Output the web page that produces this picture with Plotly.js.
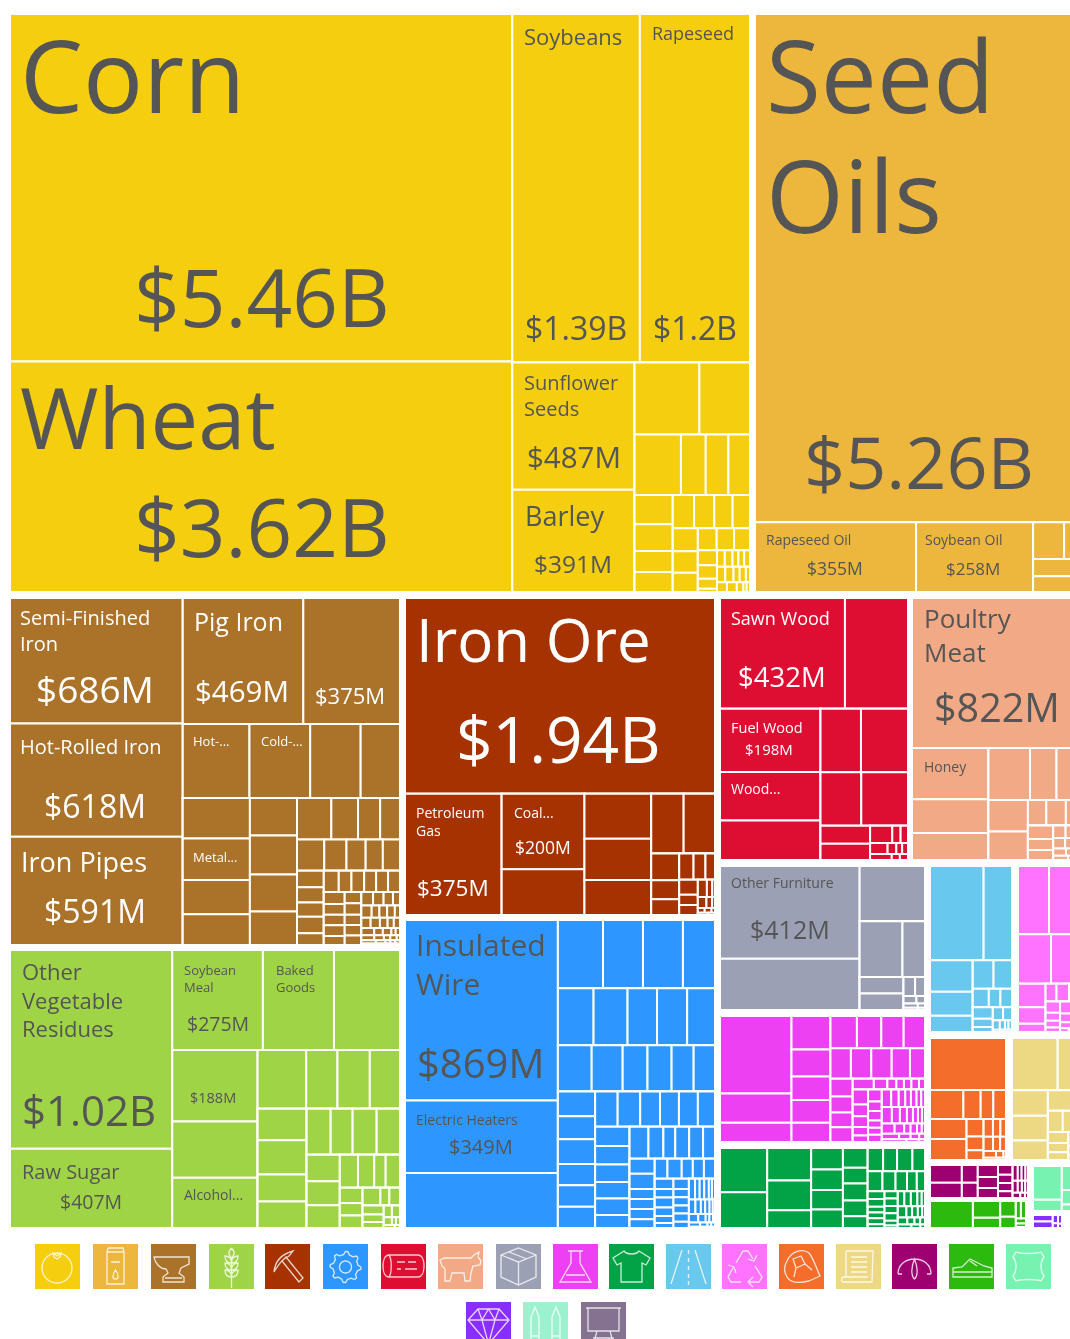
<!DOCTYPE html>
<html><head><meta charset="utf-8">
<script src="https://cdn.plot.ly/plotly-3.0.1.min.js"></script>
<style>html,body{margin:0;padding:0;width:1070px;height:1339px;overflow:hidden;background:#fff}#c{filter:blur(0.6px)}</style>
</head><body><div id="c"></div>
<script>
// Export values in $M; nesting alternates horizontal / vertical splits.
const vegTail=[[4,4,3,3,3],[4,4,3,3,2],[3,3,2,1,1]];
const vegD=[[9,8,6,2],vegTail];
const vegC=[[13,12,11],vegD];
const vegB=[[18,17,15],vegC];
const vegA=[[22,21,19,18],vegB];
const vegRow3=[[35,32,25,24],vegA];
const vegSmall=[[146,114],[88,47,43,41],vegRow3];
const vegLower=[[487,391],vegSmall];
const vegRight=[[1390,1200],vegLower];
const vegetableValues=[[5460,3620],vegRight];

const oilSmall=[[36,22],27,25];
const oilLower=[355,258,oilSmall];
const oilValues=[[5260,oilLower]];

const metTail=[[5,4.5,4,3],[4,3,3,3,2],[3,3,2.5,2,2],[3,2,2,1,1],[2,1.5,1,1,.5],[1.5,1,.5,.5,.5],[.8,.5,.3,.2]];
const metE=[[8,7,7,7,6],[6,6,5.5,5.5,5],metTail];
const metD=[[10,8.5,8.5,8,8,8],metE];
const metC=[[14,13,12,14,10],metD];
const metB=[[45,35,29,26],[27,22,19,17,17],metC];
const metA=[[86,88,73,65],[56,58,55,50],metB];
const metRight=[[480,385],[156,142,118,92],metA];
const metalValues=[[686,618,591],metRight];

const minTail=[[5,3,1.5],[3,2,1],[1,1,.5],[.8,.5]];
const minC=[[9,6,6],minTail];
const minB=[[12,10,8],minC];
const minA=[[24,17,14],minB];
const minRest=[[62,60],minA];
const minLower=[375,[200,121],[96,88,75],minRest];
const mineralValues=[[1940,minLower]];

const woodTail=[[12,4.5,4],[6,3,2,2],[4,1.5,1.5]];
const woodB=[[28,25],woodTail];
const woodA=[[80,93],[68,78],woodB];
const woodLower=[[198,152,124],woodA];
const woodValues=[[[432,218],woodLower]];

const aniTail=[[5,4,3],[4,3,3],[3,2,2],[2,1,1]];
const aniD=[[11,9,8],aniTail];
const aniC=[[15,16,14],aniD];
const aniB=[[40,36],aniC];
const aniA=[[69,44,44],aniB];
const aniLower=[[125,83,66],aniA];
const animalValues=[[822,aniLower]];

const foodTail=[[3,3],[2,1,1],[1,.5]];
const foodG=[[6,5,4],foodTail];
const foodF=[[10,5,6],foodG];
const foodE=[[11,9,9],foodF];
const foodD=[[19,17,12,15],foodE];
const foodC=[[28,25,24],foodD];
const foodB=[[35,32,35,34],foodC];
const foodA=[[49,53,42,41],foodB];
const foodRest=[[90,58,60,56],foodA];
const foodLower=[[193,152,136],foodRest];
const foodRight=[[287,225,209],foodLower];
const foodValues=[[1020,407],foodRight];

const macTail=[[4,3,3,3,2,2],[3,2.5,2,2,1.5,1],[2.5,2,1,1,.5],[1.5,1,.5,.5],[.5,.3,.2]];
const macF=[[6,5,6,5,4,3],[5,4,4,4,4,3],macTail];
const macE=[[8,9,7,7,7],macF];
const macD=[[12,12,8,8,8,7],macE];
const macC=[[19,15,12,14,14,12],macD];
const macB=[[21,20,19,18,18,14],macC];
const macA=[[25,25,22,21,21,19],macB];
const macRest=[[29,27,29,25,25,25],macA];
const macRight=[[97,86,86,69],[64,61,53,54,50],[49,45,36,35,32,31],macRest];
const machineValues=[[869,349,265],macRight];

const miscTail=[[7,6],[3,2],[2,1],[1,.5]];
const miscLow=[[23,23],miscTail];
const miscValues=[[412,228],[115,[76,40],miscLow]];

const chemTail=[[5,4,3.5,3,3,2.5,2],[5,4,3.5,3,2.5,2,1.5],[4,3,2,2,1.5,1],[3,2,1.5,1],[2,1,.5]];
const chemC=[[7,5.5,5,4,3],[5,4,4,3,3,3],chemTail];
const chemB=[[7,4.5,3,2.5,2.5,2.5,2],chemC];
const chemA=[[12,11,10,10],chemB];
const chemRight=[[26,24,22,21],[19,19,19,17,14],chemA];
const chemicalValues=[[169,64,42],[40,32,28,27,23],chemRight];

const texTail=[[3,3,3,2,1.5],[3,2,2,1.5,1],[2,1.5,1.2,1],[1.5,1,.5]];
const texB=[[4,4,3,3,3,2],[3,3,3,3,2,1],texTail];
const texRight=[[11,10,11,9],[9,8,7,6,5],texB];
const textileValues=[[64,52],[44,40,24],[21,20,19,18],[15,12,13,12,9],texRight];

const traTail=[[4,3.5],[2,1.5,1,1],[.5,.5,.3]];
const traB=[[7,5,3],traTail];
const traA=[[18,16],[9,6.5,6.5],traB];
const traLower=[[41,31,21],traA];
const transportValues=[[[153,81],traLower]];

const plaTail=[[4,4],[3,3],[2,2],[1,1,.5]];
const plaB=[[5,3.5,3,2],plaTail];
const plaA=[[6,7,7],plaB];
const plaLower=[[20,14,7],plaA];
const plasticValues=[[[65,69],[50,47],plaLower]];

const oraTail=[[5,4,3],[4,3,2.5],[2.5,1.5,.5],[1,.5]];
const oraLower=[[22,23],[9,7,5],oraTail];
const orangeValues=[[118,[29,15,11,11],oraLower]];

const papTail=[[3,3],[2,2],[1,1]];
const papB=[[7,6,5],papTail];
const papA=[[22],[10,13],papB];
const papLower=[[29,28,22],papA];
const paperValues=[[[75,40],papLower]];

const insTail=[[2,1.5,1.5,1],[1.5,1.2,1,.8],[1,.6,.4]];
const instrumentValues=[[14,12],[7,6],[6,5.5,5],[3.5,3,3,2.5],insTail];
const footTail=[[2.5,2.5],1.5,1,.3];
const footwearValues=[33,[13,8],[7,5],footTail];
const hideValues=[[30,10],[15,9,4]];
const preciousValues=[[3,3],[1,.6],[.8,.4]];

const groupValues=[vegetableValues,oilValues,metalValues,mineralValues,woodValues,animalValues,foodValues,machineValues,miscValues,chemicalValues,textileValues,transportValues,plasticValues,orangeValues,paperValues,instrumentValues,footwearValues,hideValues,preciousValues];

const captionTexts=['Corn','$5.46B','Wheat','$3.62B','Soybeans','$1.39B','Rapeseed','$1.2B','Sunflower<br>Seeds','$487M','Barley','$391M','Seed<br>Oils','$5.26B','Rapeseed Oil','$355M','Soybean Oil','$258M','Semi-Finished<br>Iron','$686M','Pig Iron','$469M','$375M','Hot-Rolled Iron','$618M','Iron Pipes','$591M','Hot-...','Cold-...','Metal...','Iron Ore','$1.94B','Petroleum<br>Gas','$375M','Coal...','$200M','Sawn Wood','$432M','Fuel Wood','$198M','Wood...','Poultry<br>Meat','$822M','Honey','Other<br>Vegetable<br>Residues','$1.02B','Raw Sugar','$407M','Soybean<br>Meal','$275M','Baked<br>Goods','$188M','Alcohol...','Insulated<br>Wire','$869M','Electric Heaters','$349M','Other Furniture','$412M'];

// ---- layout (pixels) ----
const W=1100,H=1360;
const boxes=[[10,14,750,592],[755,14,1083,592],[10,598,400,945],[405,598,715,915],[720,598,908,860],[912,598,1083,860],[10,950,400,1228],[405,920,715,1228],[720,866,925,1010],[720,1016,925,1142],[720,1148,925,1228],[930,866,1012,1032],[1018,866,1082,1032],[930,1038,1006,1160],[1012,1038,1082,1160],[930,1165,1028,1198],[930,1201,1026,1228],[1033,1166,1082,1211],[1033,1215,1062,1228]];
const groupColors=['#F4CE0F','#EDB73E','#AA7329','#A0D447','#A53200','#2E97FF','#DD0E31','#F2AA86','#9CA0B5','#ED40F2','#02A347','#69C8ED','#FF73FF','#F46D2A','#EDD984','#9E0071','#2CBA0F','#77F2B1','#892EFF','#9CF2CF','#847290'];
// box index -> colour index
const boxColor=[0,1,2,4,6,7,3,5,8,9,10,11,12,13,14,15,16,17,18];

const capX=[22,135,22,135,524,525,652,653,524,527,525,534,768,805,766,807,925,946,20,36,194,195,315,20,44,21,44,193,261,193,417,457,416,417,514,515,731,738,731,745,731,924,934,924,22,23,22,60,184,187,276,190,184,416,417,416,449,731,750];
const capBase=[112,326,448,556,45,340,40,340,417,469,527,573,232,488,546,576,546,576,652,703,631,703,704,755,818,873,923,747,747,863,662,763,837,897,819,855,625,687,733,755,795,663,723,773,1037.5,1126,1180,1210,992.5,1032,992.5,1103,1201,995.5,1078,1126,1155,889,939];
const capSize=[100,80,85,80,22,32,18,32,20,29.5,27,24.5,100,72,14,17.5,14,17,20,37,25,29.5,22,20,32,27,32,13,13,13,60,64,14,22.5,14,17.5,18,27.5,14.5,15,14,26,39.5,14,22,42,20,19.5,13,19.5,13,14.5,14,30,40,14,20,14,25];
const capColor=i=>(i>=18&&i<=40)?'#ffffff':'#555555';
const seedOilsIndex=12, seedOilsLineFont=92.3; // tighter line pitch for the two-line heading

function build(tree,color,box){
  const ids=[],parents=[],values=[];
  (function add(n,id,p){ids.push(id);parents.push(p);
    if(Array.isArray(n)){values.push(0);n.forEach((c,k)=>add(c,id+'/'+k,id));}
    else values.push(n);
  })(tree,'r','');
  return {type:'treemap',ids,labels:ids,parents,values,branchvalues:'remainder',sort:false,
    tiling:{packing:'slice-dice',pad:0},
    marker:{colors:ids.map(()=>color),line:{color:'#ffffff',width:2},pad:{t:0,l:0,r:0,b:0},depthfade:false},
    leaf:{opacity:1},root:{color:color},pathbar:{visible:false},textinfo:'none',hoverinfo:'skip',
    domain:{x:[box[0]/W,box[2]/W],y:[1-box[3]/H,1-box[1]/H]}};
}
const traces=groupValues.map((t,i)=>build(t,groupColors[boxColor[i]],boxes[i]));

const annotations=captionTexts.map((t,i)=>({
  text:i===seedOilsIndex?`<span style="font-size:${capSize[i]}px">${t}</span>`:t,
  align:'left',showarrow:false,xref:'paper',yref:'paper',xanchor:'left',yanchor:'bottom',borderpad:0,
  x:(capX[i]-0.5-capSize[i]*0.025)/W,y:1-(capBase[i]+0.313*capSize[i])/H,
  font:{family:'"Open Sans",sans-serif',size:i===seedOilsIndex?seedOilsLineFont:capSize[i],color:capColor(i)}}));

// ---- legend icons (drawn in a 45x45 local box) ----
const circle=(cx,cy,r)=>{let s='';for(let i=0;i<=28;i++){const a=i/28*2*Math.PI;s+=(i?'L':'M')+(cx+r*Math.cos(a)).toFixed(2)+' '+(cy+r*Math.sin(a)).toFixed(2)+' ';}return s;};
const gear=(cx,cy)=>{let s='';for(let i=0;i<=40;i++){const a=i/40*2*Math.PI,r=(i%5<2)?15.5:12.5;s+=(i?'L':'M')+(cx+r*Math.cos(a)).toFixed(2)+' '+(cy+r*Math.sin(a)).toFixed(2)+' ';}return s+circle(cx,cy,6);};
const grain=y=>`M22.5 ${y+7} C17 ${y+7} 16 ${y+3} 16 ${y} C20 ${y} 22.5 ${y+3} 22.5 ${y+7} C28 ${y+7} 29 ${y+3} 29 ${y} C25 ${y} 22.5 ${y+3} 22.5 ${y+7} `;
const iconPaths=[
 circle(22,24,15)+'M18 9 L22 12 L26 9 L25 13 L22 15 L19 13 Z',
 'M14 8 L31 8 L31 40 L14 40 Z M15 4 L30 4 L31 8 M15 4 L14 8 M18 18 L27 18 M22.5 26 C19 31 19 35 22.5 35 C26 35 26 31 22.5 26 Z',
 'M3 13 L38 13 L38 20 L30 24 L28 29 L33 33 L33 38 L12 38 L12 33 L17 29 L15 25 C9 25 4 19 3 13 Z M14 34 L31 34',
 'M22.5 4 C19 8 19 11 22.5 14 C26 11 26 8 22.5 4 M22.5 14 L22.5 44 '+grain(12)+grain(19)+grain(26),
 'M9 28 C10 17 17 10 28 7 L24 12 L19 15 C15 18 12 23 9 28 Z M17 17 L21 13 L38 34 L34 38 Z',
 gear(22.5,23),
 'M8 11 L37 11 C41 11 43 16 43 22 C43 28 41 33 37 33 L8 33 C4 33 2 28 2 22 C2 16 4 11 8 11 Z M8 11 C11 15 11 29 8 33 M16 18 L24 18 M27 18 L35 18 M16 25 L20 25 M24 25 L36 25',
 'M2 16 L6 14 L33 14 L36 11 L41 8 L40 13 L43 17 L42 21 L35 22 L33 29 L32 37 L27 37 L26 29 L14 29 L12 37 L7 37 L7 25 L4 22 Z',
 'M22.5 4 L40 11 L40 33 L22.5 41 L5 33 L5 11 Z M5 11 L22.5 18 L40 11 M22.5 18 L22.5 41 M13 8 L31 15',
 'M15 7 L30 7 M18 7 L18 19 L7 38 L38 38 L27 19 L27 7 M13 31 L32 31',
 'M15 7 C18 11 27 11 30 7 L41 14 L37 21 L33 19 L33 38 L12 38 L12 19 L8 21 L4 14 Z',
 'M16 6 L5 40 M29 6 L40 40 M22.5 6 L22.5 10 M22.5 14 L22.5 18 M22.5 22 L22.5 26 M22.5 30 L22.5 34 M22.5 37 L22.5 41',
 'M14 19 L21 7 L26 7 L31 15 M26 15 L32 17 L35 11 M33 22 L40 33 L37 38 L27 38 M31 33 L26 38 L31 43 M19 38 L9 38 L6 33 L11 24 M6 21 L12 23 L14 29',
 'M8 17 C12 7 24 4 30 9 C35 15 38 26 41 32 L30 37 C22 39 12 40 8 33 C5 28 5 22 8 17 Z M14 15 L22 12 L26 20 L17 24 Z M26 20 L33 26 M17 24 L15 33',
 'M10 7 L37 7 L36 38 L7 38 C5 38 5 33 8 33 L32 33 M10 7 L10 33 M15 13 L31 13 M15 18 L31 18 M15 23 L31 23 M15 28 L31 28',
 'M6 30 C6 10 39 10 39 30 M22.5 15 C18 26 20 33 22.5 35 C25 33 27 26 22.5 15 Z M6 30 L10 30 M35 30 L39 30',
 'M4 24 L13 23 L21 15 L35 22 L43 24 L43 33 L4 33 Z M4 28 L43 28 M21 17 L28 22',
 'M10 8 C15 10 30 10 35 8 L38 13 C34 18 34 27 38 32 L35 37 C30 35 15 35 10 37 L7 32 C11 27 11 18 7 13 Z',
 'M12 7 L33 7 L43 18 L22.5 42 L2 18 Z M2 18 L43 18 M12 7 L16 18 L22.5 42 L29 18 L33 7 M16 18 L22.5 7 L29 18',
 'M8 40 L8 15 L12 5 L16 15 L16 40 Z M8 34 L16 34 M29 40 L29 15 L33 5 L37 15 L37 40 Z M29 34 L37 34',
 'M7 6 L38 6 L38 29 L7 29 Z M5 6 L40 6 M16 29 L12 44 M29 29 L33 44 M12 36 L33 36'
];
const iconX=[35,93,151,209,265,323,381,438,496,553,609,666,722,779,836,892,949,1006,466,523,581];
const iconY=i=>i<18?1244:1302;
const shapes=[];
iconX.forEach((x,i)=>{
  const y=iconY(i),S=45;
  shapes.push({type:'rect',xref:'paper',yref:'paper',x0:x/W,x1:(x+S)/W,y0:1-(y+S)/H,y1:1-y/H,fillcolor:groupColors[i],line:{width:0},layer:'above'});
  const p=iconPaths[i].replace(/(-?[\d.]+)[ ,]+(-?[\d.]+)/g,(m,a,b)=>((x+ +a)/W).toFixed(6)+' '+(1-(y+ +b)/H).toFixed(6));
  shapes.push({type:'path',xref:'paper',yref:'paper',path:p,line:{color:'rgba(255,255,255,0.8)',width:1.3},fillcolor:'rgba(0,0,0,0)',layer:'above'});
});

Plotly.newPlot('c',traces,{width:W,height:H,margin:{l:0,r:0,t:0,b:0},paper_bgcolor:'#fff',showlegend:false,annotations,shapes},{displayModeBar:false,staticPlot:true});
</script></body></html>
